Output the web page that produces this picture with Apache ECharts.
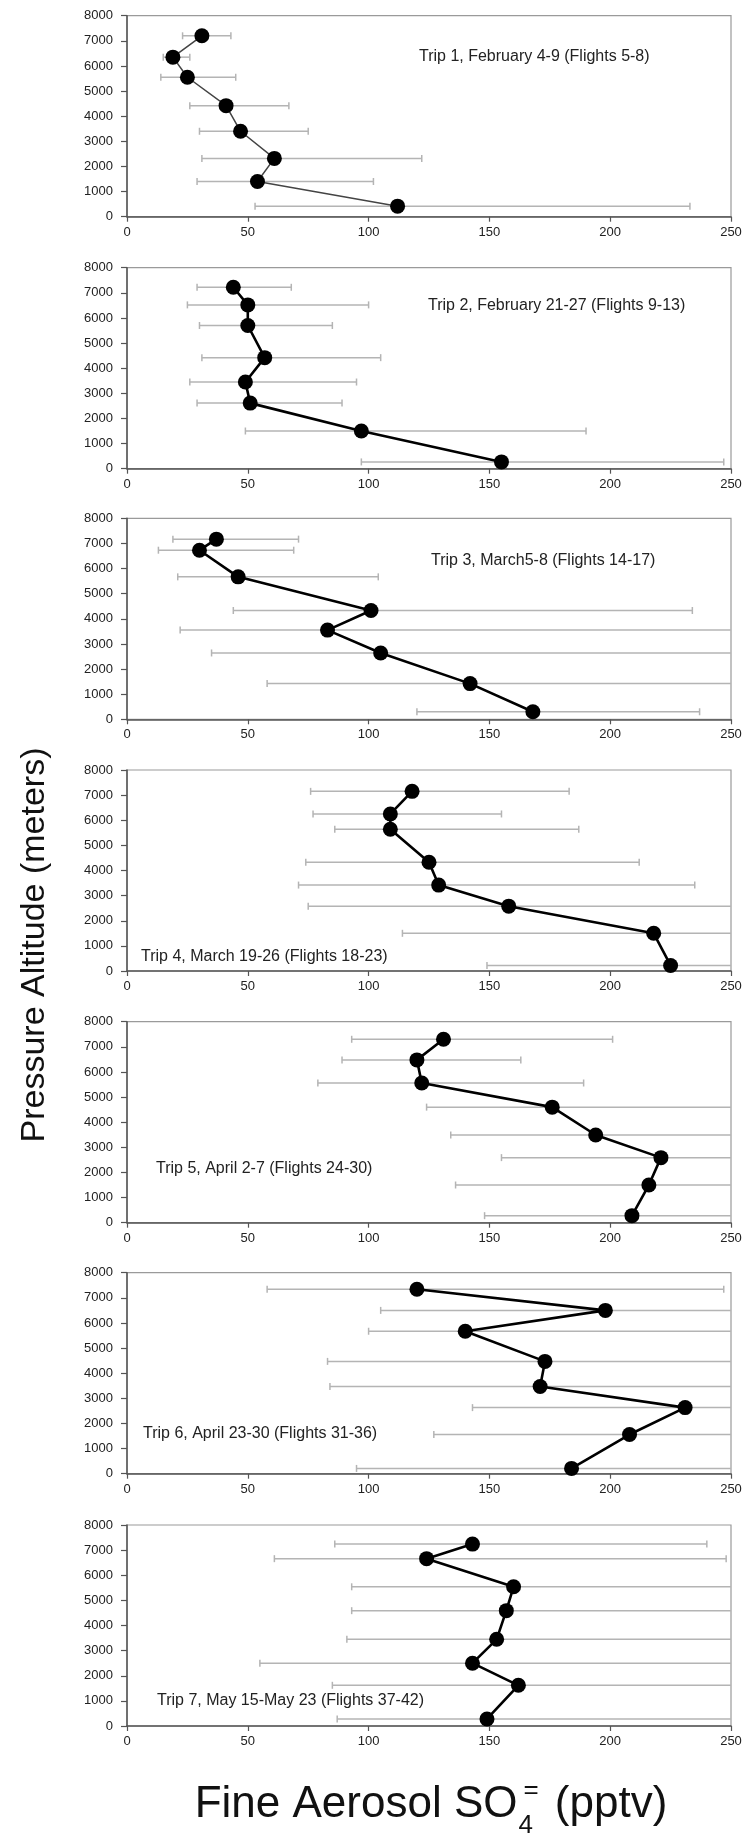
<!DOCTYPE html>
<html><head><meta charset="utf-8">
<script src="https://cdn.jsdelivr.net/npm/echarts@6/dist/echarts.min.js"></script>
<style>html,body{margin:0;padding:0;background:#fff;}#c{width:745px;height:1837px;}</style>
</head><body><div id="c"></div>
<script>
// ---- axis ticks ----
const xTicks = [0, 50, 100, 150, 200, 250];
const yTicks = [0, 1000, 2000, 3000, 4000, 5000, 6000, 7000, 8000];

// ---- panel titles ----
const tripTitles = [
  'Trip 1, February 4-9 (Flights 5-8)',
  'Trip 2, February 21-27 (Flights 9-13)',
  'Trip 3, March5-8 (Flights 14-17)',
  'Trip 4, March 19-26 (Flights 18-23)',
  'Trip 5, April 2-7 (Flights 24-30)',
  'Trip 6, April 23-30 (Flights 31-36)',
  'Trip 7, May 15-May 23 (Flights 37-42)'
];

// ---- data: altitude (m), mean SO4 (pptv), error bar low / high (pptv) ----
const trip1Alt  = [7200, 6350, 5550, 4420, 3400, 2320, 1400, 420];
const trip1SO4  = [31, 19, 25, 41, 47, 61, 54, 112];
const trip1Low  = [23, 15, 14, 26, 30, 31, 29, 53];
const trip1High = [43, 26, 45, 67, 75, 122, 102, 233];

const trip2Alt  = [7220, 6520, 5700, 4420, 3450, 2610, 1500, 270];
const trip2SO4  = [44, 50, 50, 57, 49, 51, 97, 155];
const trip2Low  = [29, 25, 30, 31, 26, 29, 49, 97];
const trip2High = [68, 100, 85, 105, 95, 89, 190, 247];

const trip3Alt  = [7170, 6730, 5670, 4330, 3550, 2640, 1420, 300];
const trip3SO4  = [37, 30, 46, 101, 83, 105, 142, 168];
const trip3Low  = [19, 13, 21, 44, 22, 35, 58, 120];
const trip3High = [71, 69, 104, 234, 290, 300, 330, 237];

const trip4Alt  = [7150, 6250, 5640, 4330, 3420, 2580, 1500, 220];
const trip4SO4  = [118, 109, 109, 125, 129, 158, 218, 225];
const trip4Low  = [76, 77, 86, 74, 71, 75, 114, 149];
const trip4High = [183, 155, 187, 212, 235, 290, 320, 300];

const trip5Alt  = [7300, 6480, 5560, 4600, 3490, 2590, 1500, 280];
const trip5SO4  = [131, 120, 122, 176, 194, 221, 216, 209];
const trip5Low  = [93, 89, 79, 124, 134, 155, 136, 148];
const trip5High = [201, 163, 189, 270, 280, 300, 310, 290];

const trip6Alt  = [7340, 6500, 5670, 4470, 3470, 2630, 1560, 210];
const trip6SO4  = [120, 198, 140, 173, 171, 231, 208, 184];
const trip6Low  = [58, 105, 100, 83, 84, 143, 127, 95];
const trip6High = [247, 300, 260, 280, 270, 320, 300, 290];

const trip7Alt  = [7240, 6660, 5540, 4590, 3450, 2500, 1620, 280];
const trip7SO4  = [143, 124, 160, 157, 153, 143, 162, 149];
const trip7Low  = [86, 61, 93, 93, 91, 55, 85, 87];
const trip7High = [240, 248, 260, 260, 260, 270, 280, 260];

const tripAlt  = [trip1Alt, trip2Alt, trip3Alt, trip4Alt, trip5Alt, trip6Alt, trip7Alt];
const tripSO4  = [trip1SO4, trip2SO4, trip3SO4, trip4SO4, trip5SO4, trip6SO4, trip7SO4];
const tripLow  = [trip1Low, trip2Low, trip3Low, trip4Low, trip5Low, trip6Low, trip7Low];
const tripHigh = [trip1High, trip2High, trip3High, trip4High, trip5High, trip6High, trip7High];

// ---- layout (pixels) ----
const gridTops = [15.7, 267.7, 518.3, 770, 1021.7, 1272.7, 1525];
const gridH = 201;
const gridLeft = 127;
const gridRight = 14;
// title positions: left x, vertical center offset from grid top
const titlePos = [[419, 41], [428, 38], [431, 42], [141, 187], [156, 147], [143, 161], [157, 176]];

const FONT = '"Liberation Sans", Arial, sans-serif';
const chart = echarts.init(document.getElementById('c'), null, {renderer: 'canvas'});

function renderErr(params, api) {
  const lo = api.coord([api.value(0), api.value(2)]);
  const hi = api.coord([api.value(1), api.value(2)]);
  const cs = params.coordSys;
  const xMin = cs.x, xMax = cs.x + cs.width;
  const y = lo[1];
  const st = {stroke: '#b4b4b4', lineWidth: 1.5};
  const x0 = Math.max(lo[0], xMin), x1 = Math.min(hi[0], xMax);
  const ch = [{type: 'line', shape: {x1: x0, y1: y, x2: x1, y2: y}, style: st}];
  const cap = 3.5;
  if (lo[0] >= xMin) ch.push({type: 'line', shape: {x1: lo[0], y1: y - cap, x2: lo[0], y2: y + cap}, style: st});
  if (hi[0] <= xMax) ch.push({type: 'line', shape: {x1: hi[0], y1: y - cap, x2: hi[0], y2: y + cap}, style: st});
  return {type: 'group', children: ch};
}

const grid = [], xAxis = [], yAxis = [], series = [], graphic = [];
const axisCol = '#555';
for (let i = 0; i < 7; i++) {
  grid.push({left: gridLeft, right: gridRight, top: gridTops[i], height: gridH,
    show: true, borderColor: '#9a9a9a', borderWidth: 1.2, backgroundColor: 'transparent'});
  xAxis.push({gridIndex: i, type: 'value', min: xTicks[0], max: xTicks[xTicks.length - 1],
    interval: xTicks[1] - xTicks[0],
    axisLine: {show: true, onZero: false, lineStyle: {color: axisCol, width: 1.5}},
    axisTick: {show: true, length: 5, lineStyle: {color: axisCol, width: 1.2}},
    axisLabel: {fontSize: 13, color: '#222', margin: 9, fontFamily: FONT,
      formatter: v => String(v)},
    splitLine: {show: false}});
  yAxis.push({gridIndex: i, type: 'value', min: yTicks[0], max: yTicks[yTicks.length - 1],
    interval: yTicks[1] - yTicks[0],
    axisLine: {show: true, onZero: false, lineStyle: {color: axisCol, width: 1.5}},
    axisTick: {show: true, length: 6, lineStyle: {color: axisCol, width: 1.2}},
    axisLabel: {fontSize: 13, color: '#222', margin: 14, fontFamily: FONT,
      formatter: v => String(v)},
    splitLine: {show: false}});
  const errData = tripAlt[i].map((a, k) => [tripLow[i][k], tripHigh[i][k], a]);
  series.push({type: 'custom', xAxisIndex: i, yAxisIndex: i, renderItem: renderErr,
    data: errData, encode: {x: [0, 1], y: 2}, z: 2, silent: true});
  const lineData = tripAlt[i].map((a, k) => [tripSO4[i][k], a]);
  series.push({type: 'line', xAxisIndex: i, yAxisIndex: i, data: lineData,
    symbol: 'circle', symbolSize: 15, showSymbol: true,
    itemStyle: {color: '#000'},
    lineStyle: {color: i === 0 ? '#444' : '#000', width: i === 0 ? 1.5 : 2.6},
    z: 3, animation: false, silent: true});
  graphic.push({type: 'text', x: titlePos[i][0], y: gridTops[i] + titlePos[i][1],
    style: {text: tripTitles[i], fontSize: 16, fontFamily: FONT, fill: '#222',
      align: 'left', verticalAlign: 'middle'}});
}

// y axis name
graphic.push({type: 'text', x: 35, y: 945, rotation: Math.PI / 2,
  style: {text: 'Pressure Altitude (meters)', fontSize: 34, fontFamily: FONT, fill: '#111',
    align: 'center', verticalAlign: 'middle'}});

// x axis name with sub/superscript, measured with canvas
(function () {
  const ctx = document.createElement('canvas').getContext('2d');
  const big = 44, small = 26;
  ctx.font = big + 'px ' + FONT;
  const part1 = 'Fine Aerosol SO', part3 = ' (pptv)';
  const w1 = ctx.measureText(part1).width;
  const w3 = ctx.measureText(part3).width;
  ctx.font = small + 'px ' + FONT;
  const wSub = ctx.measureText('4').width;
  const wSup = ctx.measureText('=').width;
  const subW = Math.max(wSub, wSup + 6);
  const total = w1 + subW + 4 + w3;
  const cx = 431, mid = 1805;
  const x0 = cx - total / 2;
  const st = (t, fs) => ({text: t, fontSize: fs, fontFamily: FONT, fill: '#111', align: 'left', verticalAlign: 'middle'});
  graphic.push({type: 'text', x: x0, y: mid, style: st(part1, big)});
  graphic.push({type: 'text', x: x0 + w1 + 1, y: mid + 21, style: st('4', small)});
  graphic.push({type: 'text', x: x0 + w1 + 6, y: mid - 14, style: st('=', small)});
  graphic.push({type: 'text', x: x0 + w1 + subW + 4, y: mid, style: st(part3, big)});
})();

chart.setOption({animation: false, backgroundColor: '#fff', grid, xAxis, yAxis, series, graphic});
</script>
</body></html>
